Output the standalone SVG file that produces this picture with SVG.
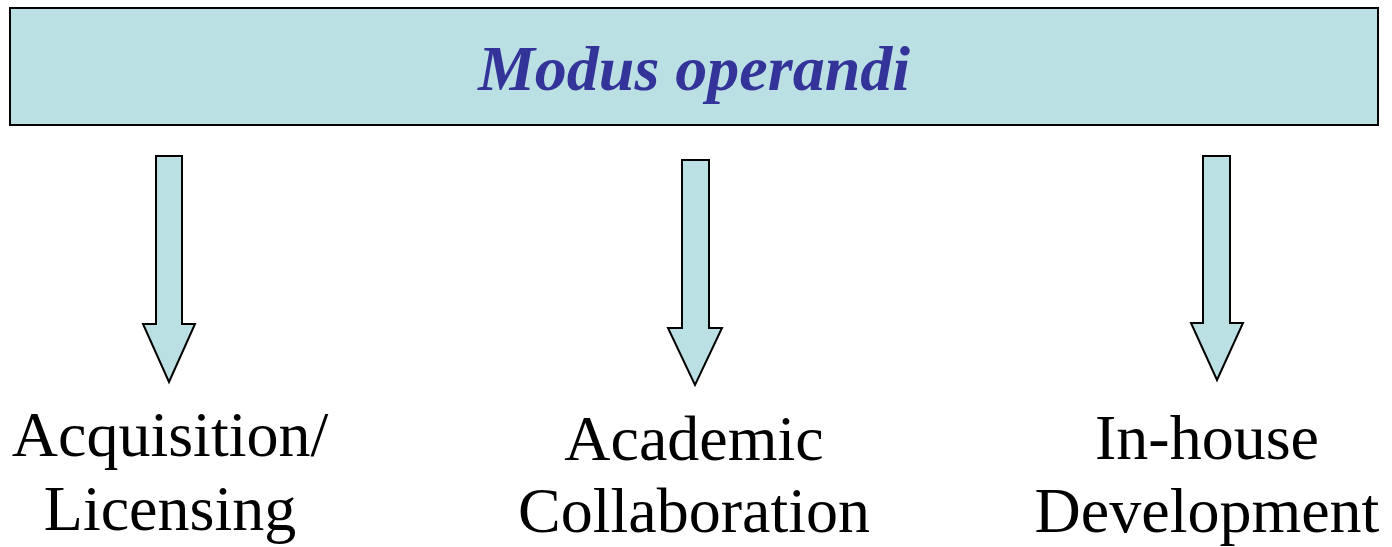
<svg xmlns="http://www.w3.org/2000/svg" width="1392" height="547" viewBox="0 0 1392 547">
  <style>
    .shape { fill: #bbe0e3; stroke: #000000; stroke-width: 2; stroke-linejoin: miter; }
    .title { font-family: "Liberation Serif", "Times New Roman", serif; font-size: 64px; font-weight: bold; font-style: italic; fill: #333399; text-anchor: middle; }
    .label { font-family: "Liberation Serif", "Times New Roman", serif; font-size: 64px; fill: #000000; text-anchor: middle; }
  </style>
  <rect width="1392" height="547" fill="#ffffff"/>

  <!-- header bar -->
  <g id="modus-operandi">
    <rect class="shape" x="10" y="8" width="1368" height="117"/>
    <text class="title" x="694" y="90">Modus operandi</text>
  </g>

  <!-- block arrows -->
  <g id="connectors">
    <path class="shape" d="M156,156 H182 V324 H195 L169,382 L143,324 H156 Z"/>
    <path class="shape" d="M682,160 H709 V328 H722 L695,385 L668,328 H682 Z"/>
    <path class="shape" d="M1203,156 H1230 V323 H1243 L1217,380 L1191,323 H1203 Z"/>
  </g>

  <g id="acquisition-licensing">
    <text class="label" x="170" y="456">Acquisition/</text>
    <text class="label" x="170" y="530">Licensing</text>
  </g>

  <g id="academic-collaboration">
    <text class="label" x="694" y="460">Academic</text>
    <text class="label" x="694" y="532">Collaboration</text>
  </g>

  <g id="in-house-development">
    <text class="label" x="1207" y="459">In-house</text>
    <text class="label" x="1207" y="532">Development</text>
  </g>
</svg>
